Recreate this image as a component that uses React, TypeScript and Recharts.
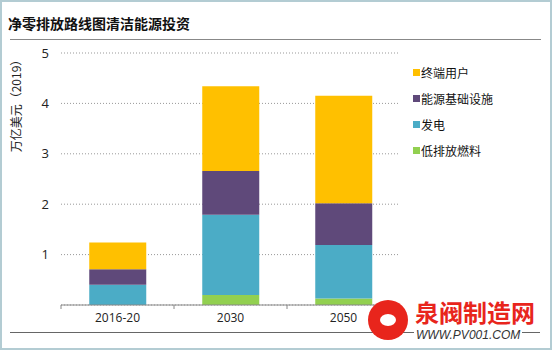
import React from "react";
import { BarChart, Bar, XAxis, YAxis, CartesianGrid } from "recharts";

const categories = ["2016-20", "2030", "2050"];
const lowEmissionFuel = [0, 0.2, 0.13];
const power = [0.4, 1.59, 1.06];
const infrastructure = [0.31, 0.87, 0.83];
const endUse = [0.53, 1.68, 2.13];
const yTicks = [1, 2, 3, 4, 5];

const series = [
  { key: "low", name: "低排放燃料", color: "#92D050", values: lowEmissionFuel },
  { key: "power", name: "发电", color: "#4BACC6", values: power },
  { key: "infra", name: "能源基础设施", color: "#5F497A", values: infrastructure },
  { key: "end", name: "终端用户", color: "#FFC000", values: endUse },
];

const data = categories.map((c, i) => {
  const row: Record<string, string | number> = { name: c };
  series.forEach((s) => {
    row[s.key] = s.values[i];
  });
  return row;
});

const font = "'Noto Sans CJK SC', 'Open Sans', sans-serif";

function XTick(props: any) {
  const { x, y, payload, index } = props;
  const off = payload.offset || 0;
  return (
    <g>
      <line x1={x - off} x2={x - off} y1={y - 8} y2={y - 4} stroke="#888" />
      {index === categories.length - 1 && (
        <line x1={x + off} x2={x + off} y1={y - 8} y2={y - 4} stroke="#888" />
      )}
      <text
        x={x}
        y={y + 9}
        textAnchor="middle"
        fontSize={12}
        fill="#222"
        fontFamily="'Open Sans', sans-serif"
      >
        {payload.value}
      </text>
    </g>
  );
}

export default function App() {
  return (
    <div
      style={{
        position: "absolute",
        left: 0,
        top: 0,
        width: 552,
        height: 350,
        boxSizing: "border-box",
        border: "2px solid #B3CCD3",
        background: "#fff",
        overflow: "hidden",
      }}
    >
      <div
        style={{
          position: "absolute",
          left: 6,
          top: 11,
          fontFamily: font,
          fontWeight: 700,
          fontSize: 14,
          color: "#111",
          whiteSpace: "nowrap",
        }}
      >
        净零排放路线图清洁能源投资
      </div>
      <div
        style={{
          position: "absolute",
          left: 8,
          top: 37,
          width: 531,
          height: 1,
          background: "#888",
        }}
      />
      <div
        style={{
          position: "absolute",
          left: 8,
          top: 330,
          width: 530,
          height: 1,
          background: "#666",
        }}
      />
      <div style={{ position: "absolute", left: -2, top: -2 }}>
        <BarChart
          width={552}
          height={350}
          data={data}
          margin={{ top: 53, right: 152, bottom: 25, left: 0 }}
          barCategoryGap="25%"
        >
          <CartesianGrid
            vertical={false}
            stroke="#999"
            strokeDasharray="1 2"
          />
          <XAxis
            dataKey="name"
            axisLine={{ stroke: "#888" }}
            tickLine={false}
            tick={<XTick />}
            height={20}
            interval={0}
          />
          <YAxis
            domain={[0, 5]}
            ticks={yTicks}
            width={61}
            axisLine={false}
            tickLine={false}
            tickMargin={6}
            tick={{ fontSize: 13, fill: "#222", fontFamily: "'Open Sans', sans-serif" }}
            label={{
              value: "万亿美元（2019）",
              angle: -90,
              position: "insideLeft",
              dx: 12,
              dy: -76,
              style: { fontSize: 12, fill: "#222", fontFamily: font, textAnchor: "middle" },
            }}
          />
          {series.map((s) => (
            <Bar
              key={s.key}
              dataKey={s.key}
              name={s.name}
              stackId="a"
              fill={s.color}
              isAnimationActive={false}
            />
          ))}
        </BarChart>
      </div>
      <div
        style={{
          position: "absolute",
          left: 411,
          top: 57,
          fontFamily: font,
          fontSize: 12,
          color: "#111",
        }}
      >
        {[...series].reverse().map((s) => (
          <div
            key={s.key}
            style={{ display: "flex", alignItems: "center", height: 26 }}
          >
            <span
              style={{
                width: 7,
                height: 7,
                background: s.color,
                display: "inline-block",
                marginRight: 1,
              }}
            />
            {s.name}
          </div>
        ))}
      </div>
      <div
        style={{
          position: "absolute",
          left: 366,
          top: 298,
          width: 40,
          height: 40,
          borderRadius: "50%",
          background: "#E8251C",
        }}
      >
        <div
          style={{
            position: "absolute",
            left: 12,
            top: 14,
            width: 16,
            height: 12,
            borderRadius: "50%",
            background: "#fff",
          }}
        />
      </div>
      <div
        style={{
          position: "absolute",
          left: 413,
          top: 297,
          fontFamily: font,
          fontSize: 24,
          fontWeight: 700,
          color: "#E8251C",
          whiteSpace: "nowrap",
          lineHeight: "26px",
        }}
      >
        泉阀制造网
      </div>
      <div
        style={{
          position: "absolute",
          left: 412,
          top: 326,
          fontFamily: "'Liberation Sans', sans-serif",
          fontSize: 12,
          lineHeight: "14px",
          fontStyle: "italic",
          color: "#333",
          whiteSpace: "nowrap",
          background: "#fff",
          padding: "0 2px",
        }}
      >
        WWW.PV001.COM
      </div>
    </div>
  );
}
